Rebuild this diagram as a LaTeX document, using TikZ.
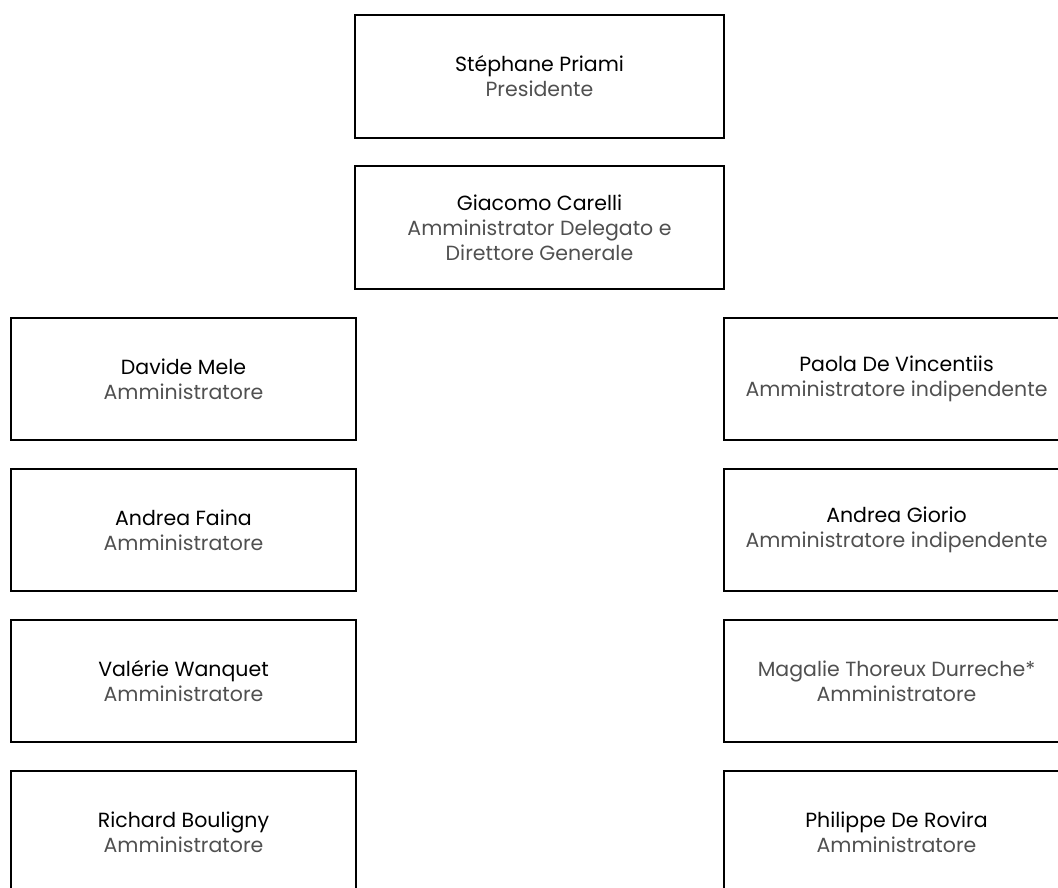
\documentclass[tikz,border=0pt]{standalone}
\usepackage{fontspec}
\setmainfont{Poppins}
\usetikzlibrary{positioning}
\definecolor{colorname}{RGB}{0,0,0}
\definecolor{colorrole}{RGB}{80,80,80}
\newcommand{\member}[2]{{\color{colorname}#1}\\#2}

\begin{document}
\begin{tikzpicture}[
    x=1pt, y=-1pt,
    node distance = 29pt and 368pt,
    base/.style={draw=black,text=colorrole,line width=2pt,rectangle,align=center,inner sep=0pt,outer sep=0pt,
                 font={\fontsize{20.5}{25}\selectfont}},
    headbox/.style={base,minimum width=369pt,minimum height=123pt},
    memberbox/.style={base,minimum width=345pt,minimum height=122pt},
]
    \useasboundingbox (0,0) rectangle (1058,887);
    \clip (0,0) rectangle (1058,887);

    % Board top
    \node[headbox] (priami) at (539.5,76.5) {\member{Stéphane Priami}{Presidente}};
    \node[headbox,below=28pt of priami] (carelli) {\member{Giacomo Carelli}{Amministrator Delegato e\\Direttore Generale}};

    % Left column
    \node[memberbox] (mele) at (183.5,379) {\member{Davide Mele}{Amministratore}};
    \node[memberbox,below=of mele] (faina) {\member{Andrea Faina}{Amministratore}};
    \node[memberbox,below=of faina] (wanquet) {\member{Valérie Wanquet}{Amministratore}};
    \node[memberbox,below=of wanquet] (bouligny) {\member{Richard Bouligny}{Amministratore}};

    % Right column
    \node[memberbox,right=of mele] (vincentiis) {\member{Paola De Vincentiis}{Amministratore indipendente}};
    \node[memberbox,below=of vincentiis] (giorio) {\member{Andrea Giorio}{Amministratore indipendente}};
    \node[memberbox,below=of giorio] (durreche) {Magalie Thoreux Durreche*\\Amministratore};
    \node[memberbox,below=of durreche] (rovira) {\member{Philippe De Rovira}{Amministratore}};
\end{tikzpicture}
\end{document}
